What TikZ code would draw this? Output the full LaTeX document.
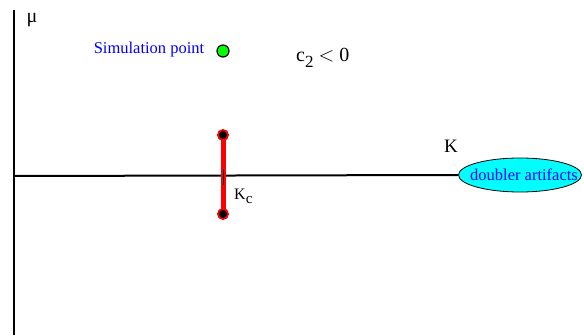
\documentclass[tikz,border=0pt]{standalone}
\usepackage{fontspec}
\setmainfont{Liberation Serif}
\usetikzlibrary{shapes.geometric}
\definecolor{mycyan}{RGB}{0,255,255}
\definecolor{mygreen}{RGB}{0,255,0}
\definecolor{myblue}{RGB}{0,0,255}
\definecolor{myred}{RGB}{255,0,0}
\begin{document}
\begin{tikzpicture}[x=1pt,y=1pt,
  axis/.style={line width=2pt,black},
  endpt/.style={circle,fill=black,draw=myred,line width=1.6pt,minimum size=10pt,inner sep=0pt},
  lbl/.style={inner sep=0pt}]
\useasboundingbox (0,0) rectangle (584,335);
% axes
\coordinate (vtop) at (14,325);
\coordinate (vbot) at (14,0);
\coordinate (hleft) at (14,159);
\draw[axis] (vtop) -- (vbot);
\node[ellipse,draw=black,fill=mycyan,line width=0.8pt,minimum width=123pt,minimum height=34pt,inner sep=0pt] (dbl) at (520,160) {};
\node[lbl,text=myblue,font=\fontsize{16.5}{18}\selectfont] (dbltext) at (524,160) {doubler artifacts};
\draw[axis] (hleft) -- (dbl.west);
% red critical segment
\node[endpt] (top) at (223,200) {};
\node[endpt] (bot) at (223,121) {};
\draw[myred,line width=5pt] (top.center) -- (bot.center);
\node[endpt] at (223,200) {};
\node[endpt] at (223,121) {};
\coordinate (t1) at (223,166);
\coordinate (t2) at (223,150);
\draw[black,line width=0.6pt] (t1) -- (t2);
% labels
\node[lbl,font=\fontsize{20}{22}\selectfont] (mu) at (32,315) {μ};
\node[lbl,text=myblue,font=\fontsize{16.5}{18}\selectfont] (sim) at (149,285) {Simulation point};
\node[circle,fill=mygreen,draw=black,line width=1.2pt,minimum size=12pt,inner sep=0pt] (sp) at (223,284) {};
\node[lbl,font=\fontsize{20}{22}\selectfont,anchor=base west] (c2) at (296,273) {c\raisebox{-6pt}{\fontsize{17}{18}\selectfont 2} $<$ 0};
\node[lbl,font=\fontsize{19}{21}\selectfont,anchor=base west] (K) at (444,182) {K};
\node[lbl,font=\fontsize{16}{18}\selectfont,anchor=base west] (Kc) at (234,135) {K\raisebox{-4pt}{\fontsize{15}{16}\selectfont c}};
\end{tikzpicture}
\end{document}
